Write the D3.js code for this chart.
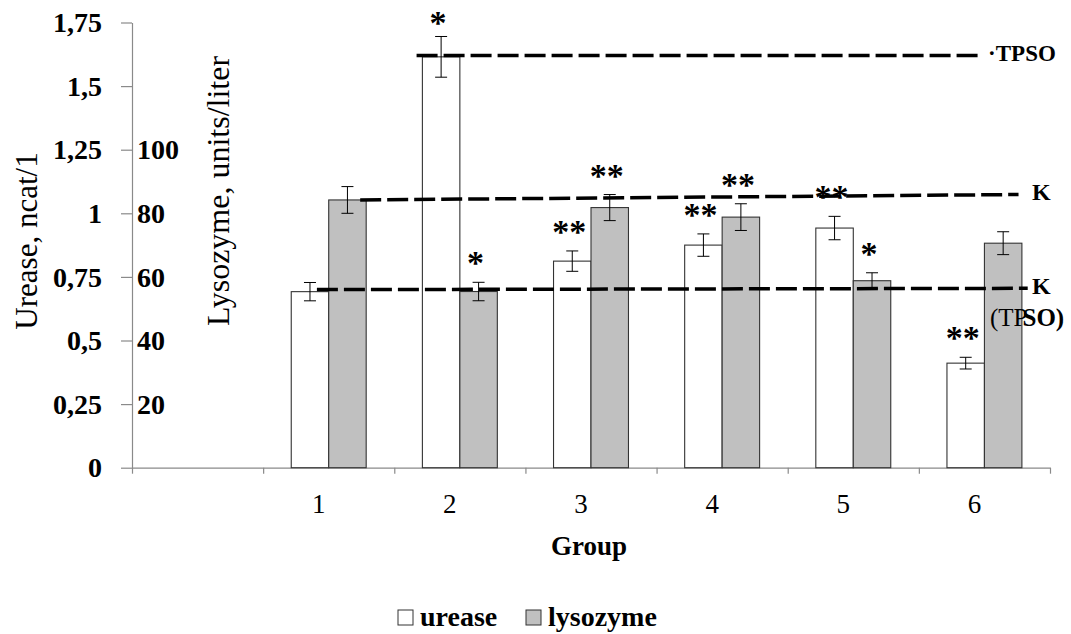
<!DOCTYPE html>
<html>
<head>
<meta charset="utf-8">
<script src="https://cdn.jsdelivr.net/npm/d3@7"></script>
<style>
body { margin: 0; background: #fff; }
text { font-family: "Liberation Serif", "Times New Roman", serif; fill: #000; }
</style>
</head>
<body>
<div id="chart"></div>
<script>
// values
var groups = ["1", "2", "3", "4", "5", "6"];
var series = ["urease", "lysozyme"];
var urease = [0.692, 1.615, 0.812, 0.875, 0.942, 0.411];
var ureaseErr = [0.036, 0.08, 0.04, 0.044, 0.046, 0.023];
var lysozyme = [84.2, 55.4, 81.8, 78.8, 58.8, 70.6];
var lysozymeErr = [4.2, 2.9, 4.1, 4.2, 2.5, 3.6];
var ureaseSig = ["", "*", "**", "**", "**", "**"];
var lysozymeSig = ["", "*", "**", "**", "*", ""];
var ureaseTicks = [0, 0.25, 0.5, 0.75, 1, 1.25, 1.5, 1.75];
var lysozymeTicks = [20, 40, 60, 80, 100];

// dashed reference lines (start/end in group units, level in axis units)
var refNames = ["TPSO", "K", "K"];
var refAxis = ["urease", "lysozyme", "urease"];
var refStart = [2.17, 1.74, 1.41];
var refEnd = [6.49, 6.76, 6.83];
var refFrom = [1.62, 84.2, 0.70];
var refTo = [1.62, 85.9, 0.705];

var svgWidth = 1071;
var svgHeight = 634;

var plotLeft = 132, plotRight = 1050, plotTop = 22.5, plotBottom = 467.7;

var svg = d3.select("#chart")
    .append("svg")
    .attr("width", svgWidth)
    .attr("height", svgHeight);

var x = d3.scaleBand()
    .domain([""].concat(groups))
    .range([plotLeft, plotRight]);

var gx = d3.scaleLinear()
    .domain([0, groups.length + 1])
    .range([plotLeft, plotRight]);

var x1 = d3.scaleBand()
    .domain(series)
    .range([0, x.bandwidth()])
    .paddingInner(0)
    .paddingOuter(0.75);

var yU = d3.scaleLinear()
    .domain([0, 1.75])
    .range([plotBottom, plotTop]);

// lysozyme 20 units sit on urease 0.25
var yL = d3.scaleLinear()
    .domain([0, 140])
    .range([plotBottom, plotTop]);

var axisGray = "#8a8a8a";

// left urease axis
var leftAxis = d3.axisLeft(yU)
    .tickValues(ureaseTicks)
    .tickSize(11)
    .tickSizeOuter(0)
    .tickPadding(19)
    .tickFormat(d => String(d).replace(".", ","));

var gLeft = svg.append("g")
    .attr("transform", `translate(${plotLeft}, 0)`)
    .call(leftAxis);
gLeft.select(".domain").attr("stroke", axisGray).attr("stroke-width", 1.2);
gLeft.selectAll(".tick line").attr("stroke", axisGray).attr("stroke-width", 1.2);
gLeft.selectAll(".tick text")
    .style("font-family", "Liberation Serif")
    .style("font-size", "28px")
    .style("font-weight", "bold")
    .attr("dy", "0.33em");

// lysozyme labels next to the axis
var lysAxis = d3.axisRight(yL)
    .tickValues(lysozymeTicks)
    .tickSize(0)
    .tickPadding(5);

var gLys = svg.append("g")
    .attr("transform", `translate(${plotLeft}, 0)`)
    .call(lysAxis);
gLys.select(".domain").remove();
gLys.selectAll(".tick text")
    .style("font-family", "Liberation Serif")
    .style("font-size", "28px")
    .style("font-weight", "bold")
    .attr("dy", "0.33em");

// bottom axis, ticks between categories
var bottomAxis = d3.axisBottom(gx)
    .tickValues(d3.range(0, groups.length + 2))
    .tickSize(6)
    .tickSizeOuter(0)
    .tickFormat("");

var gBottom = svg.append("g")
    .attr("transform", `translate(0, ${plotBottom})`)
    .call(bottomAxis);
gBottom.select(".domain").attr("stroke", axisGray).attr("stroke-width", 1.2);
gBottom.selectAll(".tick line").attr("stroke", axisGray).attr("stroke-width", 1.2);

svg.selectAll(".xlab")
    .data(groups)
    .enter()
    .append("text")
    .attr("class", "xlab")
    .attr("x", d => x(d) + x.bandwidth() / 2 - 10)
    .attr("y", 513)
    .style("font-size", "27px")
    .style("text-anchor", "middle")
    .text(d => d);

// bars
var rows = groups.map(function(g, i) {
    return [
        {g: g, s: "urease", v: urease[i], e: ureaseErr[i], sig: ureaseSig[i], y: yU},
        {g: g, s: "lysozyme", v: lysozyme[i], e: lysozymeErr[i], sig: lysozymeSig[i], y: yL}
    ];
}).flat();

svg.selectAll(".bar")
    .data(rows)
    .enter()
    .append("rect")
    .attr("class", "bar")
    .attr("x", d => x(d.g) + x1(d.s))
    .attr("y", d => d.y(d.v))
    .attr("width", x1.bandwidth())
    .attr("height", d => d.y(0) - d.y(d.v))
    .attr("fill", d => d.s == "urease" ? "#ffffff" : "#c0c0c0")
    .attr("stroke", "#333")
    .attr("stroke-width", 1.1);

// reference lines
var refs = refNames.map(function(n, i) {
    var sc = refAxis[i] == "urease" ? yU : yL;
    return {name: n, x1: gx(refStart[i]), x2: gx(refEnd[i]), y1: sc(refFrom[i]), y2: sc(refTo[i])};
});

svg.selectAll(".ref")
    .data(refs)
    .enter()
    .append("line")
    .attr("class", "ref")
    .attr("x1", d => d.x1)
    .attr("x2", d => d.x2)
    .attr("y1", d => d.y1)
    .attr("y2", d => d.y2)
    .attr("stroke", "#000")
    .attr("stroke-width", 3.5)
    .attr("stroke-dasharray", "21,6");

// error bars
var cx = d => x(d.g) + x1(d.s) + x1.bandwidth() / 2;

var err = svg.selectAll(".err")
    .data(rows)
    .enter()
    .append("g")
    .attr("class", "err")
    .attr("stroke", "#000")
    .attr("stroke-width", 1);

err.append("line")
    .attr("x1", cx).attr("x2", cx)
    .attr("y1", d => d.y(d.v + d.e))
    .attr("y2", d => d.y(d.v - d.e));
err.append("line")
    .attr("x1", d => cx(d) - 6).attr("x2", d => cx(d) + 6)
    .attr("y1", d => d.y(d.v + d.e))
    .attr("y2", d => d.y(d.v + d.e));
err.append("line")
    .attr("x1", d => cx(d) - 6).attr("x2", d => cx(d) + 6)
    .attr("y1", d => d.y(d.v - d.e))
    .attr("y2", d => d.y(d.v - d.e));

// significance marks (kept inside the top edge)
svg.selectAll(".sig")
    .data(rows.filter(d => d.sig != ""))
    .enter()
    .append("text")
    .attr("class", "sig")
    .attr("x", d => cx(d) - 3)
    .attr("y", d => Math.max(d.y(d.v + d.e) - 8, 34))
    .style("font-size", "34px")
    .style("font-weight", "bold")
    .style("text-anchor", "middle")
    .text(d => d.sig);

// labels for the reference lines
svg.append("text")
    .attr("x", refs[0].x2 + 5)
    .attr("y", 61)
    .style("font-size", "23px")
    .style("font-weight", "bold")
    .text("·TPSO");

svg.append("text")
    .attr("x", 1032)
    .attr("y", 200)
    .style("font-size", "24px")
    .style("font-weight", "bold")
    .text("K");

svg.append("text")
    .attr("x", 1032)
    .attr("y", 294)
    .style("font-size", "24px")
    .style("font-weight", "bold")
    .text("K");

var tp = svg.append("text")
    .attr("x", 990)
    .attr("y", 326)
    .style("font-size", "25px");
tp.append("tspan").text("(TP");
tp.append("tspan").style("font-weight", "bold").attr("dx", -5).text("SO)");

// axis titles
svg.append("text")
    .attr("transform", "translate(37, 241) rotate(-90)")
    .style("font-size", "31px")
    .style("text-anchor", "middle")
    .text("Urease, ncat/1");

svg.append("text")
    .attr("transform", "translate(229, 191) rotate(-90)")
    .style("font-size", "32px")
    .style("text-anchor", "middle")
    .text("Lysozyme, units/liter");

svg.append("text")
    .attr("x", 589)
    .attr("y", 555)
    .style("font-size", "27px")
    .style("font-weight", "bold")
    .style("text-anchor", "middle")
    .text("Group");

// legend
var legendX = [398, 526];
var legend = svg.selectAll(".legend")
    .data(series)
    .enter()
    .append("g")
    .attr("class", "legend")
    .attr("transform", (d, i) => `translate(${legendX[i]}, 610)`);

legend.append("rect")
    .attr("width", 15)
    .attr("height", 15)
    .attr("fill", d => d == "urease" ? "#ffffff" : "#c0c0c0")
    .attr("stroke", "#333")
    .attr("stroke-width", 1);

legend.append("text")
    .attr("x", 22)
    .attr("y", 16)
    .style("font-size", "28px")
    .style("font-weight", "bold")
    .text(d => d);
</script>
</body>
</html>
